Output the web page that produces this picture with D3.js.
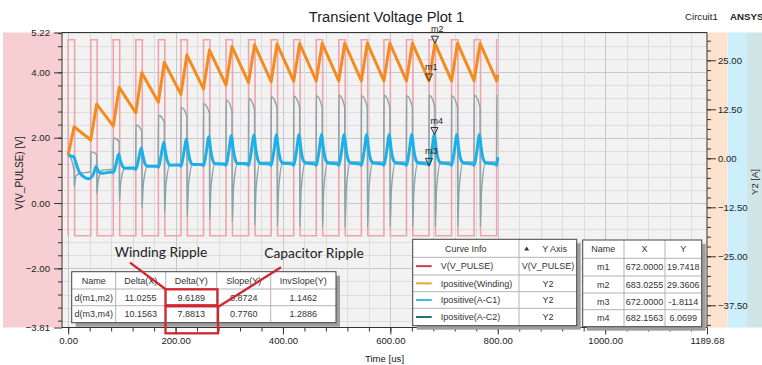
<!DOCTYPE html>
<html>
<head>
<meta charset="utf-8">
<script src="https://cdn.jsdelivr.net/npm/d3@7"></script>
<style>
  html, body { margin: 0; padding: 0; background: #ffffff; }
  svg { display: block; font-family: "Liberation Sans", Arial, sans-serif; }
</style>
</head>
<body>
<svg id="chart" width="762" height="365"></svg>
<script>
// ---------------- data ----------------
// pulse source: start time of each period [us]
const cycleStart = [0, 42, 84, 126, 168, 210, 252, 294, 336, 378, 420, 462, 504, 546, 588, 630, 672, 714, 756, 798];
const stopTime = 800;
const pulseLow = -1, pulseHigh = 5, pulseWidth = 12;

// Ipositive(Winding): value at each period start and at the end of the ramp
const windingRise = 11.0255;
const windingTrough = [0.84, 4.67, 8.2, 11.6, 14.3, 16.3, 17.7, 18.7, 19.3, 19.55, 19.68, 19.72, 19.74, 19.73, 19.75, 19.74, 19.7418, 19.74, 19.75, 19.74];
const windingPeak   = [8.06, 13.8, 18.1, 21.8, 24.5, 26.4, 27.6, 28.5, 28.95, 29.15, 29.28, 29.33, 29.35, 29.36, 29.35, 29.36, 29.3606, 29.36, 29.35, 29.36];
const windingEnd = 21.3;

// Ipositive(A-C1): samples at fixed offsets inside each period
const ac1Offsets = [0, 5, 10.1563, 13, 16.5, 22, 39];
const ac1Start = [0.84, -5.0, -3.6, -2.8, -2.3, -2.05, -1.92, -1.86, -1.83, -1.82, -1.81, -1.81, -1.81, -1.81, -1.81, -1.81, -1.8114, -1.81, -1.81, -1.81];
const ac1Rise  = [0.6, -4.0, -1.6, -0.3, 0.6, 1.1, 1.4, 1.6, 1.7, 1.7, 1.7, 1.7, 1.7, 1.7, 1.7, 1.7, 1.7, 1.7, 1.7, 1.7];
const ac1Peak  = [0.45, -2.1, 1.1, 2.6, 4.1, 4.9, 5.5, 5.8, 5.95, 6.0, 6.05, 6.06, 6.07, 6.06, 6.07, 6.07, 6.0699, 6.07, 6.06, 6.07];
const ac1Knee  = [-0.5, -3.0, -0.5, 0.8, 1.8, 2.3, 2.5, 2.7, 2.8, 2.8, 2.8, 2.8, 2.8, 2.8, 2.8, 2.8, 2.8, 2.8, 2.8, 2.8];
const ac1Fall  = [-2.0, -3.6, -1.8, -1.2, -0.6, -0.3, -0.15, -0.05, 0, 0, 0, 0, 0, 0, 0, 0, 0, 0, 0, 0];
const ac1Base  = [-3.8, -3.8, -2.55, -2.05, -1.75, -1.55, -1.42, -1.35, -1.3, -1.25, -1.22, -1.22, -1.22, -1.22, -1.22, -1.22, -1.22, -1.22, -1.22, -1.22];
const ac1Late  = [-5.2, -3.5, -2.55, -2.0, -1.7, -1.55, -1.5, -1.45, -1.45, -1.45, -1.45, -1.45, -1.45, -1.45, -1.45, -1.45, -1.45, -1.45, -1.45, -1.45];
const ac1End = 0.3;

// Ipositive(A-C2): samples at fixed offsets inside each period
const ac2Init = 0.84;
const ac2Offsets = [0.3, 11, 11.4, 14, 22, 41.7];
const ac2High = [0.84, 1.7, 5.2, 8.5, 11.0, 13.0, 13.9, 14.9, 15.3, 15.7, 15.9, 16.0, 16.1, 16.0, 16.1, 16.0, 16.1, 16.0, 16.1, 16.0];
const ac2Hold = [-3.0, 1.0, 4.2, 7.0, 9.2, 10.8, 11.5, 12.2, 12.5, 12.8, 13.0, 13.0, 13.1, 13.0, 13.1, 13.0, 13.1, 13.0, 13.1, 13.0];
const ac2Low  = [-7.2, -9.1, -10.9, -12.7, -14.0, -14.9, -15.7, -16.2, -17.0, -17.2, -17.4, -17.5, -17.5, -17.5, -17.5, -17.5, -17.5, -17.5, -17.5, -17.5];
const ac2Mid  = [-4.6, -5.6, -6.0, -6.5, -6.8, -7.0, -7.2, -7.3, -7.5, -7.6, -7.7, -7.8, -7.8, -7.8, -7.8, -7.8, -7.8, -7.8, -7.8, -7.8];
const ac2Base = [-3.8, -3.0, -2.4, -2.0, -1.6, -1.4, -1.25, -1.15, -1.05, -1.0, -0.95, -0.9, -0.9, -0.9, -0.9, -0.9, -0.9, -0.9, -0.9, -0.9];
const ac2Late = [-3.5, -2.8, -2.2, -1.8, -1.5, -1.3, -1.2, -1.1, -1.0, -0.95, -0.9, -0.9, -0.9, -0.9, -0.9, -0.9, -0.9, -0.9, -0.9, -0.9];
const ac2End = 15.9;

// markers (Y2 axis)
const markerNames = ["m1", "m2", "m3", "m4"];
const markerX = [672.0000, 683.0255, 672.0000, 682.1563];
const markerY = [19.7418, 29.3606, -1.8114, 6.0699];

// marker delta table
const deltaHeader = ["Name", "Delta(X)", "Delta(Y)", "Slope(Y)", "InvSlope(Y)"];
const deltaRows = [
  ["d(m1,m2)", "11.0255", "9.6189", "0.8724", "1.1462"],
  ["d(m3,m4)", "10.1563", "7.8813", "0.7760", "1.2886"]
];

// legend
const curveNames = ["V(V_PULSE)", "Ipositive(Winding)", "Ipositive(A-C1)", "Ipositive(A-C2)"];
const curveAxis  = ["V(V_PULSE)", "Y2", "Y2", "Y2"];

// axes
const xDomain = [-11.5, 1189.68];
const vDomain = [-3.81, 5.22];
const aDomain = [-43.16, 32.09];
const xTicks = [0, 200, 400, 600, 800, 1000, 1189.68];
const vTicks = [5.22, 4, 2, 0, -2, -3.81];
const aTicks = [25, 12.5, 0, -12.5, -25, -37.5];

// ---------------- drawing ----------------
const svg = d3.select("#chart");
const plot = { left: 62, right: 707, top: 32.5, bottom: 327.5 };
const fmt2 = d3.format(".2f");

const x  = d3.scaleLinear().domain(xDomain).range([plot.left, plot.right]);
const yV = d3.scaleLinear().domain(vDomain).range([plot.bottom, plot.top]);
const yA = d3.scaleLinear().domain(aDomain).range([plot.bottom, plot.top]);

// side bands for the two value axes
svg.append("rect").attr("x", 3).attr("y", plot.top).attr("width", plot.left - 3).attr("height", plot.bottom - plot.top).attr("fill", "#f7cfd2");
svg.append("rect").attr("x", plot.right).attr("y", plot.top).attr("width", 20.5).attr("height", plot.bottom - plot.top).attr("fill", "#fde3cd");
svg.append("rect").attr("x", plot.right + 20.5).attr("y", plot.top).attr("width", 19.5).attr("height", plot.bottom - plot.top).attr("fill", "#cdeefb");
svg.append("rect").attr("x", plot.right + 40).attr("y", plot.top).attr("width", 762 - plot.right - 40).attr("height", plot.bottom - plot.top).attr("fill", "#d0e6e6");

// plot background
svg.append("rect").attr("x", plot.left).attr("y", plot.top).attr("width", plot.right - plot.left).attr("height", plot.bottom - plot.top).attr("fill", "#f2f2f2");

// grid
const vGrid = d3.range(-9, 14).map(i => +(i * 0.4).toFixed(1));
const xGrid = d3.range(0, 30).map(i => i * 40);
const grid = svg.append("g");
grid.selectAll("line.h").data(vGrid).join("line")
  .attr("x1", plot.left).attr("x2", plot.right)
  .attr("y1", d => Math.round(yV(d)) + 0.5).attr("y2", d => Math.round(yV(d)) + 0.5)
  .attr("stroke", d => (Math.abs(d % 2) < 1e-6 ? "#c8c8c8" : "#dddddd")).attr("stroke-width", 1);
grid.selectAll("line.v").data(xGrid).join("line")
  .attr("y1", plot.top).attr("y2", plot.bottom)
  .attr("x1", d => Math.round(x(d)) + 0.5).attr("x2", d => Math.round(x(d)) + 0.5)
  .attr("stroke", d => (d % 200 === 0 ? "#c8c8c8" : "#dddddd")).attr("stroke-width", 1);

// series points
function periodic(offsets, columns, initPoint, endValue) {
  const pts = initPoint ? [initPoint] : [];
  cycleStart.forEach((t0, k) => {
    offsets.forEach((dt, i) => { if (t0 + dt < stopTime) pts.push([t0 + dt, columns[i][k]]); });
  });
  pts.push([stopTime, endValue]);
  return pts;
}

const pulsePts = [];
cycleStart.forEach(t0 => {
  pulsePts.push([t0, pulseLow], [t0, pulseHigh]);
  if (t0 + pulseWidth < stopTime) pulsePts.push([t0 + pulseWidth, pulseHigh], [t0 + pulseWidth, pulseLow]);
  else pulsePts.push([stopTime, pulseHigh]);
});

const windingPts = periodic([0, windingRise], [windingTrough, windingPeak], null, windingEnd);
const ac1Pts = periodic(ac1Offsets, [ac1Start, ac1Rise, ac1Peak, ac1Knee, ac1Fall, ac1Base, ac1Late], null, ac1End);
const ac2Pts = periodic(ac2Offsets, [ac2High, ac2Hold, ac2Low, ac2Mid, ac2Base, ac2Late], [0, ac2Init], ac2End);

svg.append("clipPath").attr("id", "plotClip").append("rect")
  .attr("x", plot.left).attr("y", plot.top).attr("width", plot.right - plot.left).attr("height", plot.bottom - plot.top);
const series = svg.append("g").attr("clip-path", "url(#plotClip)");

const lineV = d3.line().x(d => x(d[0])).y(d => yV(d[1]));
const lineA = d3.line().x(d => x(d[0])).y(d => yA(d[1]));
const lineAsmooth = d3.line().x(d => x(d[0])).y(d => yA(d[1])).curve(d3.curveMonotoneX);

series.append("path").attr("d", lineV(pulsePts)).attr("fill", "none")
  .attr("stroke", "#f0a3aa").attr("stroke-width", 1.6);
series.append("path").attr("d", lineAsmooth(ac2Pts)).attr("fill", "none")
  .attr("stroke", "#86a5a9").attr("stroke-width", 1.4).attr("stroke-linejoin", "round");
series.append("path").attr("d", lineA(windingPts)).attr("fill", "none")
  .attr("stroke", "#f58a1f").attr("stroke-width", 3).attr("stroke-linejoin", "round");
series.append("path").attr("d", lineAsmooth(ac1Pts)).attr("fill", "none")
  .attr("stroke", "#1bb1e8").attr("stroke-width", 3).attr("stroke-linejoin", "round");

// axes
function styleAxis(g) {
  g.select(".domain").remove();
  g.selectAll("line").attr("stroke", "#333");
  g.selectAll("text").attr("fill", "#222").attr("font-size", 9.6)
    .attr("font-family", "'Liberation Sans', Arial, sans-serif");
}
svg.append("g").attr("transform", `translate(${plot.left},0)`)
  .call(d3.axisLeft(yV).tickValues(vGrid.filter(v => v > vDomain[0] && v < vDomain[1])).tickSize(4).tickFormat(""))
  .call(styleAxis);
svg.append("g").attr("transform", `translate(${plot.left},0)`)
  .call(d3.axisLeft(yV).tickValues(vTicks).tickSize(8).tickPadding(4).tickFormat(fmt2))
  .call(styleAxis);

const aMinor = d3.range(-17, 13).map(i => i * 2.5).filter(v => v > aDomain[0] && v < aDomain[1]);
svg.append("g").attr("transform", `translate(${plot.right},0)`)
  .call(d3.axisRight(yA).tickValues(aMinor).tickSize(4).tickFormat(""))
  .call(styleAxis);
svg.append("g").attr("transform", `translate(${plot.right},0)`)
  .call(d3.axisRight(yA).tickValues(aTicks).tickSize(9).tickPadding(2).tickFormat(fmt2))
  .call(styleAxis);

svg.append("g").attr("transform", `translate(0,${plot.bottom})`)
  .call(d3.axisBottom(x).tickValues(xGrid).tickSize(4).tickFormat(""))
  .call(styleAxis);
svg.append("g").attr("transform", `translate(0,${plot.bottom})`)
  .call(d3.axisBottom(x).tickValues(xTicks).tickSize(7).tickPadding(3).tickFormat(fmt2))
  .call(styleAxis);

// frame
const frame = svg.append("g").attr("stroke", "#333").attr("stroke-width", 1);
frame.append("line").attr("x1", plot.left).attr("x2", plot.right).attr("y1", plot.top).attr("y2", plot.top);
frame.append("line").attr("x1", plot.left).attr("x2", plot.right).attr("y1", plot.bottom).attr("y2", plot.bottom);
frame.append("line").attr("x1", plot.left).attr("x2", plot.left).attr("y1", plot.top).attr("y2", plot.bottom);
frame.append("line").attr("x1", plot.right).attr("x2", plot.right).attr("y1", plot.top).attr("y2", plot.bottom);

// titles
svg.append("text").attr("x", 386.5).attr("y", 21.7).attr("text-anchor", "middle")
  .attr("font-size", 14.7).attr("fill", "#222").text("Transient Voltage Plot 1");
svg.append("text").attr("x", 685).attr("y", 19.5).attr("font-size", 9.7).attr("fill", "#222").text("Circuit1");
svg.append("text").attr("x", 730).attr("y", 19.5).attr("font-size", 9.7).attr("font-weight", "bold").attr("fill", "#222").text("ANSYS");
svg.append("text").attr("transform", "translate(23,173) rotate(-90)").attr("text-anchor", "middle")
  .attr("font-size", 10).attr("fill", "#222").text("V(V_PULSE) [V]");
svg.append("text").attr("transform", "translate(758,182) rotate(-90)").attr("text-anchor", "middle")
  .attr("font-size", 9.5).attr("fill", "#222").text("Y2 [A]");
svg.append("text").attr("x", 384.5).attr("y", 361.5).attr("text-anchor", "middle")
  .attr("font-size", 9.6).attr("fill", "#222").text("Time [us]");

// markers
const mk = svg.append("g");
markerNames.forEach((name, i) => {
  const cx = x(markerX[i]), cy = yA(markerY[i]);
  mk.append("path").attr("d", `M${cx - 3.5},${cy - 7}L${cx + 3.5},${cy - 7}L${cx},${cy}Z`)
    .attr("fill", "none").attr("stroke", "#333").attr("stroke-width", 1);
  mk.append("text").attr("x", cx - 4).attr("y", cy - 11).attr("font-size", 9).attr("fill", "#222").text(name);
});

// tables
function drawTable(cols, rows, cells, shadow) {
  const g = svg.append("g");
  const x0 = cols[0], x1 = cols[cols.length - 1], y0 = rows[0], y1 = rows[rows.length - 1];
  if (shadow) g.append("rect").attr("x", x0 + 4).attr("y", y0 + 4).attr("width", x1 - x0).attr("height", y1 - y0).attr("fill", "#9f9f9f");
  g.append("rect").attr("x", x0).attr("y", y0).attr("width", x1 - x0).attr("height", y1 - y0).attr("fill", "#fff");
  rows.slice(1, -1).forEach(r => g.append("line").attr("x1", x0).attr("x2", x1).attr("y1", r).attr("y2", r).attr("stroke", "#b3b3b3"));
  cols.slice(1, -1).forEach(c => g.append("line").attr("x1", c).attr("x2", c).attr("y1", y0).attr("y2", y1).attr("stroke", "#b3b3b3"));
  g.append("rect").attr("x", x0).attr("y", y0).attr("width", x1 - x0).attr("height", y1 - y0).attr("fill", "none").attr("stroke", "#444");
  cells.forEach((row, ri) => row.forEach((txt, ci) => {
    if (txt === null) return;
    g.append("text").attr("x", (cols[ci] + cols[ci + 1]) / 2).attr("y", (rows[ri] + rows[ri + 1]) / 2 + 3.2)
      .attr("text-anchor", "middle").attr("font-size", 9).attr("fill", "#333").text(txt);
  }));
  return g;
}

// delta table
drawTable([71.7, 115.7, 165.7, 216.7, 270.7, 336], [271.7, 289, 305.7, 322.7], [deltaHeader, ...deltaRows], true);

// curve info table
const legendCols = [412.7, 519, 576.7];
const legendRows = [239.3, 257.3, 275, 291.7, 308.3, 325.7];
const lg = drawTable(legendCols, legendRows, [["Curve Info", null]], true);
lg.append("path").attr("d", "M524.2,250.5L529.2,250.5L526.7,246.5Z").attr("fill", "#333");
lg.append("text").attr("x", 554.7).attr("y", (legendRows[0] + legendRows[1]) / 2 + 3.2).attr("text-anchor", "middle")
  .attr("font-size", 9).attr("fill", "#333").text("Y Axis");
const swatch = ["#c63d4b", "#e9a53c", "#3dbde6", "#1f7172"];
curveNames.forEach((name, i) => {
  const cy = (legendRows[i + 1] + legendRows[i + 2]) / 2;
  lg.append("line").attr("x1", 416).attr("x2", 431.7).attr("y1", cy).attr("y2", cy).attr("stroke", swatch[i]).attr("stroke-width", 2);
  lg.append("text").attr("x", 440.7).attr("y", cy + 3.2).attr("font-size", 9).attr("fill", "#333").text(name);
  lg.append("text").attr("x", 548).attr("y", cy + 3.2).attr("text-anchor", "middle").attr("font-size", 9).attr("fill", "#333").text(curveAxis[i]);
});

// marker table
const markerCells = [["Name", "X", "Y"]].concat(markerNames.map((n, i) => [n, markerX[i].toFixed(4), markerY[i].toFixed(4)]));
drawTable([582.7, 624, 665, 701.7], [240, 258.3, 276, 293, 309.7, 326.7], markerCells, true);

// ripple call-outs
const red = "#d1252f";
const ann = svg.append("g").attr("fill", "none").attr("stroke", red).attr("stroke-width", 2.3);
ann.append("rect").attr("x", 165.5).attr("y", 289.3).attr("width", 52).attr("height", 16);
ann.append("rect").attr("x", 165.5).attr("y", 306.3).attr("width", 52.5).attr("height", 27);
ann.append("line").attr("x1", 130).attr("y1", 262.7).attr("x2", 166).attr("y2", 289.5);
ann.append("line").attr("x1", 218).attr("y1", 307).attr("x2", 281).attr("y2", 267.3);
svg.append("text").attr("x", 161).attr("y", 257.3).attr("text-anchor", "middle")
  .attr("font-family", "Lato, 'Open Sans', sans-serif").attr("font-size", 13.8).attr("fill", "#222").text("Winding Ripple");
svg.append("text").attr("x", 314).attr("y", 258).attr("text-anchor", "middle")
  .attr("font-family", "Lato, 'Open Sans', sans-serif").attr("font-size", 13.8).attr("fill", "#222").text("Capacitor Ripple");
</script>
</body>
</html>
